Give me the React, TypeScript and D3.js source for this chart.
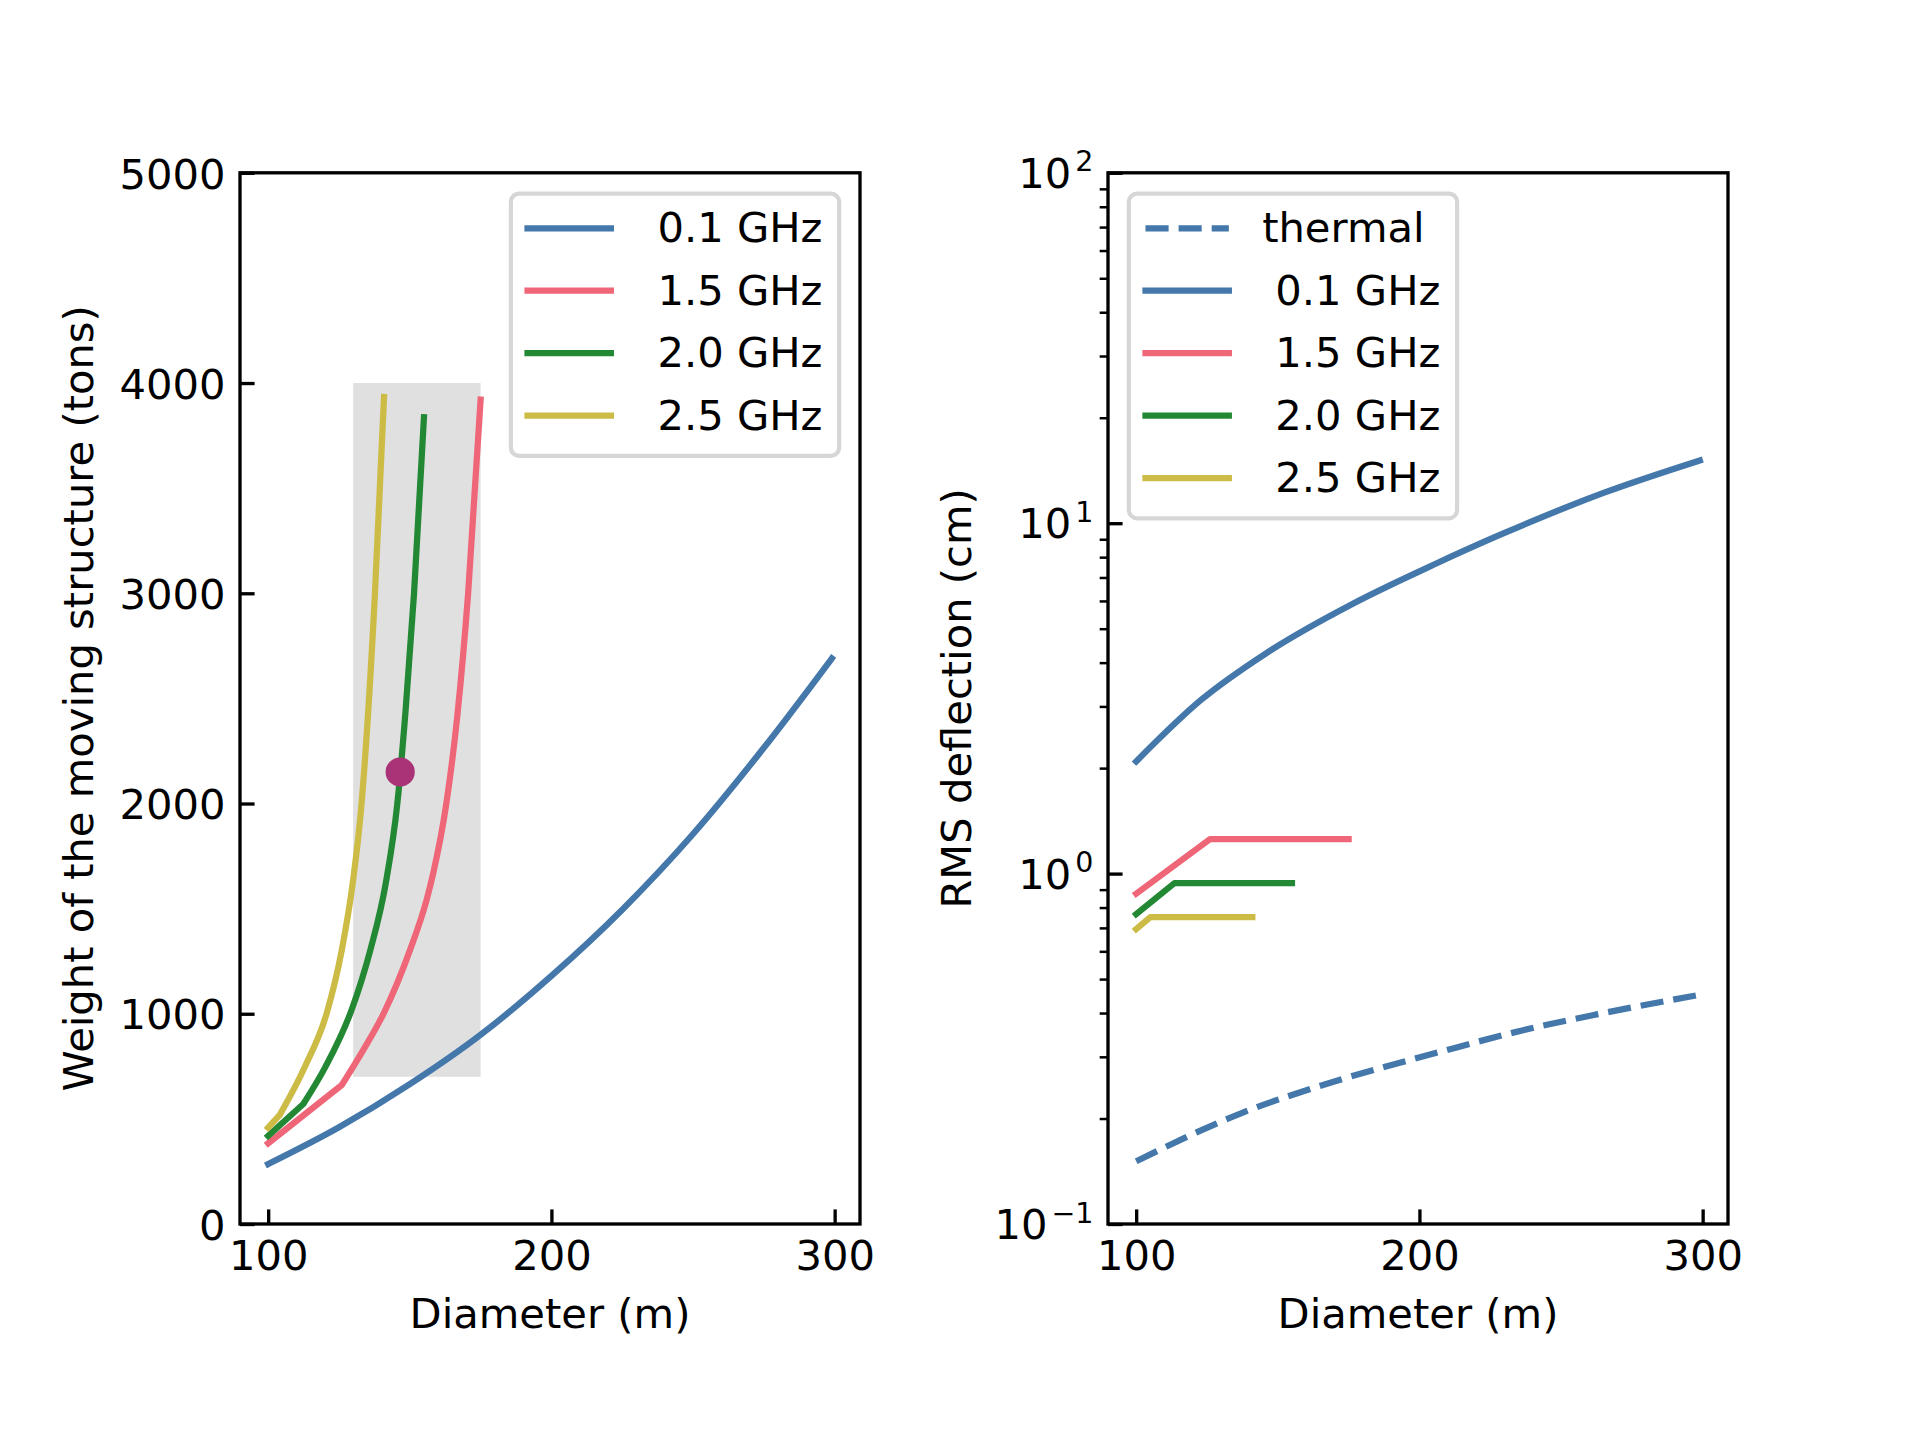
import { useRef, useEffect } from 'react';
import * as d3 from 'd3';

const FONT = "'DejaVu Sans', sans-serif";
const FS = 41.67; // 10pt at 300 dpi

// Left panel: weight of the moving structure (tons) vs diameter (m)
const wD01 = [100, 125, 150, 175, 200, 225, 250, 275, 299];
const w01 = [285, 460, 665, 900, 1180, 1495, 1855, 2265, 2690];
const wD15 = [100, 126, 133.6, 140.7, 150.1, 155.9, 158.3, 162.9, 166.8, 170.6, 175];
const w15 = [384, 661, 828, 1000, 1304, 1540, 1670, 2000, 2420, 3000, 3921];
const wD20 = [100, 112.4, 120.1, 129.5, 136, 141.5, 145.6, 148.5, 151.5, 155];
const w20 = [419, 571, 745, 1020, 1300, 1620, 2000, 2440, 3000, 3837];
const wD25 = [100, 104.1, 113, 120.6, 126, 130, 132.7, 137.7, 140.9];
const w25 = [458, 519, 749, 1000, 1304, 1637, 1960, 3000, 3934];
const markerPoint = [146.6, 2150];
const spanX = [130, 175];
const spanY = [700, 4000];

// Right panel: RMS deflection (cm) vs diameter (m)
const rThermalD = [100, 137, 172, 208, 237, 263, 299];
const rThermal = [0.151, 0.207, 0.258, 0.311, 0.358, 0.397, 0.451];
const rD01 = [100, 123, 146, 177, 205, 229, 265, 299];
const r01 = [2.09, 3.135, 4.26, 5.92, 7.61, 9.3, 12.2, 15.1];
const rD15 = [100, 126, 175];
const r15 = [0.876, 1.254, 1.254];
const rD20 = [100, 113.5, 155];
const r20 = [0.766, 0.939, 0.939];
const rD25 = [100, 105, 141];
const r25 = [0.694, 0.751, 0.751];

const xTicks = [100, 200, 300];
const weightTicks = [0, 1000, 2000, 3000, 4000, 5000];
const logMajor = [0.1, 1, 10, 100];
const logExp = ['−1', '0', '1', '2'];

const BLUE = '#4477AA';
const RED = '#EE6677';
const GREEN = '#228833';
const YELLOW = '#CCBB44';
const PURPLE = '#AA3377';

const legendLeft = [
  { label: ' 0.1 GHz', color: BLUE, dashed: false },
  { label: ' 1.5 GHz', color: RED, dashed: false },
  { label: ' 2.0 GHz', color: GREEN, dashed: false },
  { label: ' 2.5 GHz', color: YELLOW, dashed: false },
];
const legendRight = [{ label: 'thermal', color: BLUE, dashed: true }, ...legendLeft];

export default function App() {
  const svgRef = useRef<SVGSVGElement>(null);

  useEffect(() => {
    if (!svgRef.current) return;
    const svg = d3.select(svgRef.current);
    svg.selectAll('*').remove();

    const top = 172.8;
    const bottom = 1224;
    const lw = 6.25;
    const spineW = 3.33;
    const tickLen = 14.58;

    const xL = d3.scaleLinear().domain([90.05, 308.95]).range([240, 860]);
    const xR = d3.scaleLinear().domain([90.05, 308.95]).range([1108, 1728]);
    const yL = d3.scaleLinear().domain([0, 5000]).range([bottom, top]);
    const yR = d3.scaleLog().domain([0.1, 100]).range([bottom, top]);

    // kink > 0: straight up to that index, smooth after; 0: smooth; -1: straight
    const curve = (g: any, xs: number[], ys: number[], x: any, y: any, color: string, kink: number, dashed = false) => {
      const pts: [number, number][] = xs.map((d, i) => [x(d), y(ys[i])]);
      let path: string;
      if (kink > 0) {
        const lin = d3.line().curve(d3.curveLinear)(pts.slice(0, kink + 1)) as string;
        const mono = d3.line().curve(d3.curveMonotoneX)(pts.slice(kink)) as string;
        path = lin + mono.replace(/^M/, 'L');
      } else if (kink === 0) {
        path = d3.line().curve(d3.curveMonotoneX)(pts) as string;
      } else {
        path = d3.line().curve(d3.curveLinear)(pts) as string;
      }
      g.append('path')
        .attr('d', path)
        .attr('fill', 'none')
        .attr('stroke', color)
        .attr('stroke-width', lw)
        .attr('stroke-linejoin', 'round')
        .attr('stroke-linecap', dashed ? 'butt' : 'square')
        .attr('stroke-dasharray', dashed ? '23.1,10' : null);
    };

    const styleAxis = (ag: any, width: number) => {
      ag.select('.domain').remove();
      ag.selectAll('line').attr('stroke', '#000').attr('stroke-width', width);
      ag.selectAll('text').attr('fill', '#000').attr('font-family', FONT).attr('font-size', FS);
    };

    const legend = (g: any, left: number, ltop: number, entries: typeof legendRight) => {
      const pitch = 41.6 + 20.83;
      const h = 2 * 16.67 + entries.length * 41.6 + (entries.length - 1) * 20.83;
      g.append('rect')
        .attr('x', left).attr('y', ltop)
        .attr('width', 328.3).attr('height', h)
        .attr('rx', 8.33).attr('ry', 8.33)
        .attr('fill', '#fff').attr('fill-opacity', 0.8)
        .attr('stroke', '#cccccc').attr('stroke-opacity', 0.8)
        .attr('stroke-width', 4.17);
      entries.forEach((e, i) => {
        const base = ltop + 16.67 + 32 + i * pitch;
        g.append('line')
          .attr('x1', left + 16.67).attr('x2', left + 100)
          .attr('y1', base - 14).attr('y2', base - 14)
          .attr('stroke', e.color).attr('stroke-width', lw)
          .attr('stroke-linecap', e.dashed ? 'butt' : 'square')
          .attr('stroke-dasharray', e.dashed ? '23.1,10' : null);
        g.append('text')
          .attr('x', left + 133.3).attr('y', base)
          .attr('font-family', FONT).attr('font-size', FS)
          .style('white-space', 'pre')
          .text(e.label);
      });
    };

    // ---------- Left panel ----------
    const gl = svg.append('g');
    gl.append('rect')
      .attr('x', xL(spanX[0])).attr('y', yL(spanY[1]))
      .attr('width', xL(spanX[1]) - xL(spanX[0]))
      .attr('height', yL(spanY[0]) - yL(spanY[1]))
      .attr('fill', '#e0e0e0');

    curve(gl, wD01, w01, xL, yL, BLUE, 0);
    curve(gl, wD15, w15, xL, yL, RED, 1);
    curve(gl, wD20, w20, xL, yL, GREEN, 1);
    curve(gl, wD25, w25, xL, yL, YELLOW, 1);

    gl.append('circle')
      .attr('cx', xL(markerPoint[0])).attr('cy', yL(markerPoint[1]))
      .attr('r', 14.6).attr('fill', PURPLE);

    gl.append('rect')
      .attr('x', 240).attr('y', top).attr('width', 620).attr('height', bottom - top)
      .attr('fill', 'none').attr('stroke', '#000').attr('stroke-width', spineW);

    const xAxL = gl.append('g').attr('transform', `translate(0,${bottom})`)
      .call(d3.axisBottom(xL).tickValues(xTicks).tickFormat(d3.format('d') as any).tickSizeInner(-tickLen).tickSizeOuter(0));
    styleAxis(xAxL, spineW);
    xAxL.selectAll('text').attr('y', 46.3).attr('dy', null);

    const yAxL = gl.append('g').attr('transform', 'translate(240,0)')
      .call(d3.axisLeft(yL).tickValues(weightTicks).tickFormat(d3.format('d') as any).tickSizeInner(-tickLen).tickSizeOuter(0));
    styleAxis(yAxL, spineW);
    yAxL.selectAll('text').attr('x', -tickLen).attr('dy', 15.2);

    gl.append('text')
      .attr('x', 550).attr('y', 1328.4)
      .attr('text-anchor', 'middle')
      .attr('font-family', FONT).attr('font-size', FS)
      .text('Diameter (m)');
    gl.append('text')
      .attr('transform', `translate(93,${(top + bottom) / 2}) rotate(-90)`)
      .attr('text-anchor', 'middle')
      .attr('font-family', FONT).attr('font-size', FS)
      .text('Weight of the moving structure (tons)');

    legend(gl, 860 - 20.83 - 328.3, top + 20.83, legendLeft);

    // ---------- Right panel ----------
    const gr = svg.append('g');
    curve(gr, rThermalD, rThermal, xR, yR, BLUE, 0, true);
    curve(gr, rD01, r01, xR, yR, BLUE, 0);
    curve(gr, rD15, r15, xR, yR, RED, -1);
    curve(gr, rD20, r20, xR, yR, GREEN, -1);
    curve(gr, rD25, r25, xR, yR, YELLOW, -1);

    gr.append('rect')
      .attr('x', 1108).attr('y', top).attr('width', 620).attr('height', bottom - top)
      .attr('fill', 'none').attr('stroke', '#000').attr('stroke-width', spineW);

    const xAxR = gr.append('g').attr('transform', `translate(0,${bottom})`)
      .call(d3.axisBottom(xR).tickValues(xTicks).tickFormat(d3.format('d') as any).tickSizeInner(-tickLen).tickSizeOuter(0));
    styleAxis(xAxR, spineW);
    xAxR.selectAll('text').attr('y', 46.3).attr('dy', null);

    const minor = yR.ticks().filter((v) => !logMajor.some((m) => Math.abs(m - v) < 1e-9));
    const yMinR = gr.append('g').attr('transform', 'translate(1108,0)')
      .call(d3.axisLeft(yR).tickValues(minor).tickFormat(() => '').tickSizeInner(8.33).tickSizeOuter(0));
    styleAxis(yMinR, 2.5);

    const yAxR = gr.append('g').attr('transform', 'translate(1108,0)')
      .call(d3.axisLeft(yR).tickValues(logMajor).tickFormat(() => '').tickSizeInner(-tickLen).tickSizeOuter(0));
    styleAxis(yAxR, spineW);
    yAxR.selectAll('text').remove();

    logMajor.forEach((v, i) => {
      const t = gr.append('text')
        .attr('x', 1108 - tickLen).attr('y', yR(v) + 15.2)
        .attr('text-anchor', 'end')
        .attr('font-family', FONT).attr('font-size', FS);
      t.append('tspan').text('10');
      t.append('tspan').attr('font-size', 28.5).attr('dx', 4).attr('dy', -16.6).text(logExp[i]);
    });

    gr.append('text')
      .attr('x', 1418).attr('y', 1328.4)
      .attr('text-anchor', 'middle')
      .attr('font-family', FONT).attr('font-size', FS)
      .text('Diameter (m)');
    gr.append('text')
      .attr('transform', `translate(970.7,${(top + bottom) / 2}) rotate(-90)`)
      .attr('text-anchor', 'middle')
      .attr('font-family', FONT).attr('font-size', FS)
      .text('RMS deflection (cm)');

    legend(gr, 1108 + 20.83, top + 20.83, legendRight);
  }, []);

  return (
    <svg
      ref={svgRef}
      width={1920}
      height={1440}
      style={{ position: 'absolute', left: 0, top: 0, background: '#fff' }}
    />
  );
}
